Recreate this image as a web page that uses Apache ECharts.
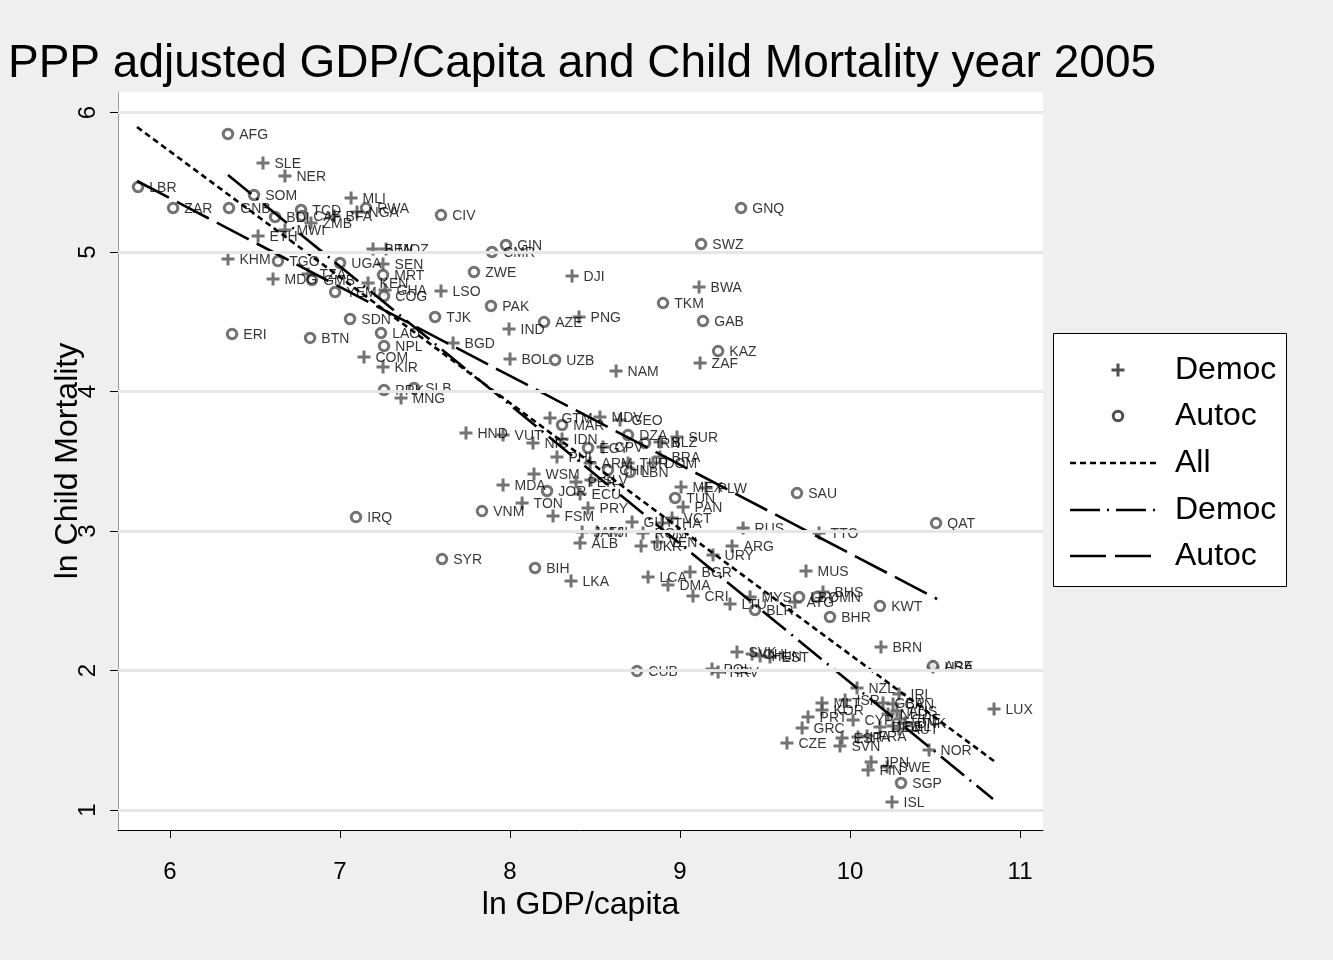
<!DOCTYPE html>
<html><head><meta charset="utf-8">
<script src="https://cdn.jsdelivr.net/npm/echarts@6/dist/echarts.min.js"></script>
<style>html,body{margin:0;padding:0;background:#efefef}#c{width:1333px;height:960px}</style>
</head><body><div id="c"></div>
<script>
const democNames = ['SLE','NER','MLI','BFA','NGA','ZMB','MWI','ETH','BEN','MOZ','KHM','SEN','MDG','TZA','KEN','GHA','LSO','DJI','BWA','IND','PNG','BGD','BOL','NAM','ZAF','COM','KIR','MNG','GTM','MDV','GEO','HND','VUT','NIC','IDN','PHL','CPV','BLZ','SUR','BRA','ARM','TUR','DOM','WSM','PER','SLV','MDA','ECU','TON','PRY','FSM','MEX','PLW','PAN','VCT','THA','GUY','ROM','VEN','UKR','JAM','FJI','ALB','URY','ARG','RUS','TTO','MUS','BHS','ATG','LTU','MYS','BGR','LCA','DMA','CRI','LKA','BRN','SVK','CHL','HUN','EST','POL','HRV','USA','NZL','IRL','GBR','CAN','ISR','MLT','KOR','AUS','NLD','PRT','CYP','CHE','DNK','DEU','BEL','AUT','GRC','FRA','ITA','ESP','SVN','CZE','NOR','JPN','FIN','SWE','ISL','LUX'];
const democX = [6.547,6.676,7.065,6.965,7.100,6.829,6.676,6.518,7.194,7.271,6.341,7.253,6.606,6.812,7.165,7.265,7.594,8.365,9.112,7.994,8.406,7.665,8.000,8.624,9.118,7.141,7.253,7.359,8.235,8.529,8.647,7.741,7.959,8.135,8.306,8.276,8.547,8.882,8.982,8.882,8.471,8.694,8.841,8.141,8.388,8.476,7.959,8.412,8.071,8.459,8.253,9.006,9.153,9.018,8.953,8.894,8.718,8.782,8.865,8.771,8.424,8.512,8.412,9.194,9.306,9.371,9.818,9.741,9.841,9.676,9.294,9.412,9.059,8.812,8.929,9.076,8.359,10.182,9.335,9.424,9.471,9.529,9.188,9.224,10.488,10.041,10.288,10.194,10.253,9.971,9.835,9.835,10.276,10.224,9.753,10.018,10.294,10.324,10.176,10.253,10.288,9.718,10.100,10.047,9.953,9.941,9.629,10.465,10.124,10.106,10.218,10.247,10.847];
const democY = [5.638,5.545,5.387,5.258,5.287,5.208,5.158,5.115,5.022,5.022,4.950,4.914,4.806,4.842,4.778,4.728,4.720,4.828,4.749,4.448,4.534,4.348,4.233,4.147,4.204,4.247,4.176,3.953,3.810,3.817,3.796,3.703,3.688,3.631,3.660,3.530,3.602,3.638,3.674,3.530,3.487,3.487,3.487,3.408,3.351,3.366,3.330,3.265,3.201,3.165,3.108,3.315,3.308,3.172,3.093,3.057,3.065,2.986,2.921,2.892,2.993,2.993,2.914,2.828,2.892,3.022,2.986,2.713,2.563,2.491,2.477,2.527,2.706,2.670,2.613,2.534,2.642,2.169,2.133,2.118,2.104,2.097,2.011,1.989,2.025,1.874,1.831,1.767,1.760,1.789,1.767,1.717,1.710,1.688,1.667,1.645,1.652,1.624,1.595,1.602,1.581,1.588,1.530,1.523,1.516,1.459,1.480,1.430,1.344,1.287,1.308,1.057,1.724];

const autocNames = ['AFG','LBR','ZAR','GNB','SOM','BDI','TCD','CAF','RWA','CIV','GIN','CMR','SWZ','GNQ','ZWE','UGA','TGO','MRT','GMB','YEM','COG','SDN','ERI','BTN','LAO','NPL','PRK','SLB','TJK','PAK','AZE','UZB','TKM','GAB','KAZ','MAR','DZA','EGY','IRN','CHN','LBN','JOR','VNM','TUN','IRQ','SYR','BIH','SAU','QAT','KWT','BHR','LBY','OMN','BLR','ARE','SGP','CUB'];
const autocX = [6.341,5.812,6.018,6.347,6.494,6.618,6.771,6.776,7.153,7.594,7.976,7.894,9.124,9.359,7.788,7.000,6.635,7.253,6.835,6.971,7.259,7.059,6.365,6.824,7.241,7.259,7.259,7.435,7.559,7.888,8.200,8.265,8.900,9.135,9.224,8.306,8.694,8.459,8.794,8.576,8.706,8.218,7.835,8.971,7.094,7.600,8.147,9.688,10.506,10.176,9.882,9.700,9.806,9.441,10.488,10.300,8.747];
const autocY = [5.846,5.466,5.315,5.315,5.409,5.251,5.301,5.258,5.315,5.265,5.050,5.000,5.057,5.315,4.857,4.921,4.935,4.835,4.799,4.713,4.685,4.520,4.412,4.384,4.419,4.326,4.011,4.025,4.534,4.613,4.498,4.226,4.634,4.505,4.290,3.760,3.688,3.595,3.631,3.437,3.423,3.287,3.143,3.237,3.100,2.799,2.735,3.272,3.057,2.462,2.384,2.527,2.527,2.434,2.032,1.194,1.996];

// fitted lines (endpoints)
const fitAllX = [5.806, 10.847];   const fitAllY = [5.896, 1.351];
const fitDemocX = [6.341, 10.841]; const fitDemocY = [5.552, 1.079];
const fitAutocX = [5.806, 10.512]; const fitAutocY = [5.509, 2.513];

const xTicks = [6,7,8,9,10,11];
const yTicks = [1,2,3,4,5,6];

const FONT = 'Liberation Sans, Arial, Helvetica, sans-serif';
const MARK = '#505050';
const plusPath = 'path://M-1.5,-6.5H1.5V-1.5H6.5V1.5H1.5V6.5H-1.5V1.5H-6.5V-1.5H-1.5Z';

const pts = (n, xs, ys) => n.map((name, i) => ({name, value:[xs[i], ys[i]]}));
const seg = (xs, ys) => xs.map((x, i) => [x, ys[i]]);
const lbl = {show:true, position:'right', distance:5, formatter:'{b}', fontSize:14, color:'#000', fontFamily:FONT, offset:[0,1]};

const chart = echarts.init(document.getElementById('c'), null, {renderer:'canvas'});
chart.setOption({
  backgroundColor:'#efefef',
  animation:false,
  title:{text:'PPP adjusted GDP/Capita and Child Mortality year 2005', left:3, top:36,
    textStyle:{fontSize:46, fontWeight:'normal', color:'#000', fontFamily:FONT}},
  grid:{left:118, right:290, top:92, bottom:130, show:true, backgroundColor:'#fff', borderWidth:0, outerBoundsMode:'none'},
  xAxis:{type:'value', min:5.694, max:11.135,
    axisLine:{show:true, lineStyle:{color:'#000', width:1}},
    axisTick:{show:true, customValues:xTicks, length:8, lineStyle:{color:'#000'}},
    axisLabel:{customValues:xTicks, fontSize:24, color:'#000', margin:30, fontFamily:FONT},
    splitLine:{show:false},
    name:'ln GDP/capita', nameLocation:'middle', nameGap:59, nameMoveOverlap:false,
    nameTextStyle:{fontSize:32, color:'#000', fontFamily:FONT}},
  yAxis:{type:'value', min:0.857, max:6.147,
    axisLine:{show:true, lineStyle:{color:'#999', width:1}},
    axisTick:{show:true, customValues:yTicks, length:8, lineStyle:{color:'#000'}},
    axisLabel:{customValues:yTicks, fontSize:24, color:'#000', margin:18, rotate:90, fontFamily:FONT},
    splitLine:{show:false},
    name:'ln Child Mortality', nameLocation:'middle', nameGap:34, nameMoveOverlap:false,
    nameTextStyle:{fontSize:32, color:'#000', fontFamily:FONT}},
  series:[
    {type:'scatter', data:[], z:1, silent:true,
      markLine:{silent:true, symbol:['none','none'], label:{show:false},
        lineStyle:{color:'#e6e6e6', width:3, type:'solid'},
        data:yTicks.map(v=>({yAxis:v}))}},
    {type:'scatter', name:'Democ', data:pts(democNames, democX, democY), symbol:plusPath, symbolSize:13,
      itemStyle:{color:MARK}, label:lbl, z:3},
    {type:'scatter', name:'Autoc', data:pts(autocNames, autocX, autocY), symbol:'circle', symbolSize:9.5,
      itemStyle:{color:'#fff', borderColor:MARK, borderWidth:3}, label:lbl, z:3},
    {type:'line', name:'All', data:seg(fitAllX, fitAllY), symbol:'none', z:4,
      lineStyle:{color:'#000', width:2.6, type:[6,4]}},
    {type:'line', name:'Democ fit', data:seg(fitDemocX, fitDemocY), symbol:'none', z:4,
      lineStyle:{color:'#000', width:2.6, type:[30,7,2,7]}},
    {type:'line', name:'Autoc fit', data:seg(fitAutocX, fitAutocY), symbol:'none', z:4,
      lineStyle:{color:'#000', width:2.6, type:[36,9]}}
  ],
  graphic:[
    {type:'rect', shape:{x:1053.5, y:333.5, width:233, height:253}, style:{fill:'#fff', stroke:'#000', lineWidth:1}, z:10},
    {type:'rect', shape:{x:1111.5, y:368.5, width:13, height:3}, style:{fill:MARK}, z:11},
    {type:'rect', shape:{x:1116.5, y:363.5, width:3, height:13}, style:{fill:MARK}, z:11},
    {type:'circle', shape:{cx:1118, cy:416, r:4.75}, style:{fill:'#fff', stroke:MARK, lineWidth:3}, z:11},
    {type:'line', shape:{x1:1070, y1:463, x2:1157, y2:463}, style:{stroke:'#000', lineWidth:2.6, lineDash:[6,4]}, z:11},
    {type:'line', shape:{x1:1070, y1:510, x2:1157, y2:510}, style:{stroke:'#000', lineWidth:2.6, lineDash:[30,7,2,7]}, z:11},
    {type:'line', shape:{x1:1070, y1:556, x2:1157, y2:556}, style:{stroke:'#000', lineWidth:2.6, lineDash:[36,9]}, z:11},
    {type:'text', x:1175, y:370, style:{text:'Democ', fontSize:32, fontFamily:FONT, fill:'#000', verticalAlign:'middle'}, z:11},
    {type:'text', x:1175, y:416, style:{text:'Autoc', fontSize:32, fontFamily:FONT, fill:'#000', verticalAlign:'middle'}, z:11},
    {type:'text', x:1175, y:463, style:{text:'All', fontSize:32, fontFamily:FONT, fill:'#000', verticalAlign:'middle'}, z:11},
    {type:'text', x:1175, y:510, style:{text:'Democ', fontSize:32, fontFamily:FONT, fill:'#000', verticalAlign:'middle'}, z:11},
    {type:'text', x:1175, y:556, style:{text:'Autoc', fontSize:32, fontFamily:FONT, fill:'#000', verticalAlign:'middle'}, z:11}
  ]
});
</script></body></html>
